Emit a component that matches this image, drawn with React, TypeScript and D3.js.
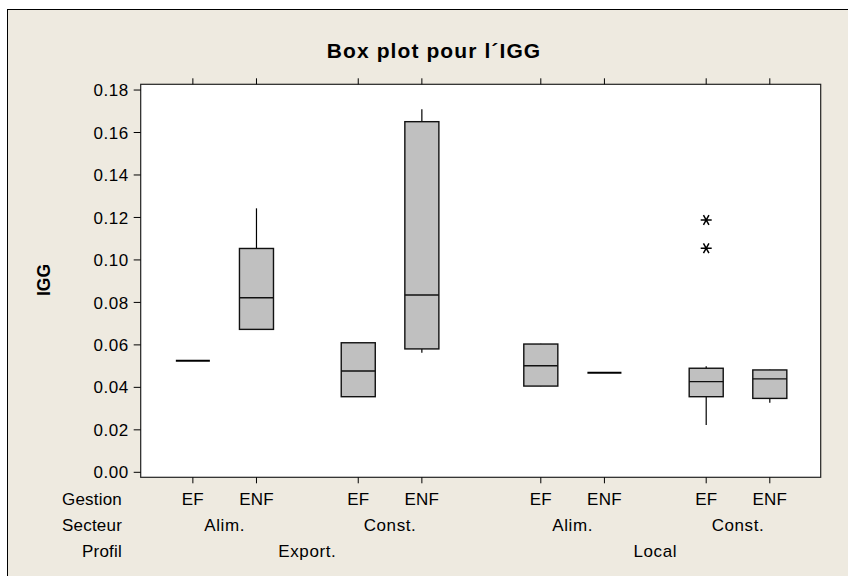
import React from "react";
import * as d3 from "d3";

// ---- Data ----
const gestion = ["EF", "ENF", "EF", "ENF", "EF", "ENF", "EF", "ENF"];
const secteur = ["Alim.", "Alim.", "Const.", "Const.", "Alim.", "Alim.", "Const.", "Const."];
const profil = ["Export.", "Export.", "Export.", "Export.", "Local", "Local", "Local", "Local"];

const whiskerLow = [0.0525, 0.0672, 0.0355, 0.0563, 0.0405, 0.0469, 0.0223, 0.0327];
const q1 = [0.0525, 0.0673, 0.0356, 0.0581, 0.0406, 0.0469, 0.0356, 0.0348];
const median = [0.0525, 0.0822, 0.0477, 0.0835, 0.0502, 0.0469, 0.0427, 0.0440];
const q3 = [0.0525, 0.1054, 0.061, 0.1651, 0.0604, 0.0469, 0.049, 0.0482];
const whiskerHigh = [0.0525, 0.1243, 0.0611, 0.171, 0.0605, 0.0469, 0.0499, 0.0483];
const outliers = [
  { group: 6, value: 0.1188 },
  { group: 6, value: 0.1055 },
];

const yTicks = [0, 0.02, 0.04, 0.06, 0.08, 0.1, 0.12, 0.14, 0.16, 0.18];
const rowLabels = ["Gestion", "Secteur", "Profil"];

const title = "Box plot pour l´IGG";
const yTitle = "IGG";

// layout gaps (in category units)
const GAP_SECTEUR = 1.6;
const GAP_PROFIL = 1.87;

const FONT = "'Liberation Sans', Arial, Helvetica, sans-serif";
const BG = "#EEEAE0";
const BOX = "#C0C0C0";

export default function App() {
  const W = 848;
  const H = 576;
  const plot = { left: 140.7, right: 820.7, top: 84.3, bottom: 477.3 };

  // category positions with gaps
  const pos: number[] = [];
  gestion.forEach((_, i) => {
    if (i === 0) pos.push(0);
    else if (profil[i] !== profil[i - 1]) pos.push(pos[i - 1] + GAP_PROFIL);
    else if (secteur[i] !== secteur[i - 1]) pos.push(pos[i - 1] + GAP_SECTEUR);
    else pos.push(pos[i - 1] + 1);
  });
  const last = pos[pos.length - 1];

  const x = d3.scaleLinear().domain([-0.82, last + 0.8]).range([plot.left, plot.right]);
  const y = d3.scaleLinear().domain([-0.00235, 0.1827]).range([plot.bottom, plot.top]);
  const halfW = (x(0.535) - x(0)) / 2;

  // group spans
  const spans = (labels: string[], parent?: string[]) => {
    const out: { label: string; from: number; to: number }[] = [];
    labels.forEach((l, i) => {
      const prev = out[out.length - 1];
      const sameParent = !parent || (i > 0 && parent[i] === parent[i - 1]);
      if (prev && prev.label === l && i > 0 && labels[i - 1] === l && sameParent) prev.to = i;
      else out.push({ label: l, from: i, to: i });
    });
    return out;
  };
  const secSpans = spans(secteur, profil);
  const profSpans = spans(profil);

  const rowY = [505, 531, 557];

  const star = (cx: number, cy: number, r: number) =>
    [0, 60, 120]
      .map((a) => {
        const rad = (a * Math.PI) / 180;
        const dx = r * Math.cos(rad);
        const dy = r * Math.sin(rad);
        return `M${cx - dx},${cy - dy}L${cx + dx},${cy + dy}`;
      })
      .join("");

  return (
    <svg
      width={W}
      height={H}
      style={{ position: "absolute", left: 0, top: 0, background: "#fff" }}
      fontFamily={FONT}
    >
      <rect x={7.5} y={9.5} width={W} height={H} fill={BG} stroke="#000" strokeWidth={1} />
      <text
        x={434}
        y={58}
        textAnchor="middle"
        fontWeight="bold"
        fontSize={21}
        letterSpacing={1.1}
        fill="#000"
      >
        {title}
      </text>

      {/* plot area */}
      <rect
        x={plot.left}
        y={plot.top}
        width={plot.right - plot.left}
        height={plot.bottom - plot.top}
        fill="#fff"
        stroke="#222"
        strokeWidth={1.2}
      />

      {/* y axis ticks */}
      {yTicks.map((t) => (
        <g key={t}>
          <line x1={plot.left - 7} x2={plot.left} y1={y(t)} y2={y(t)} stroke="#000" strokeWidth={1} />
          <text
            x={plot.left - 12}
            y={y(t)}
            dy="0.36em"
            textAnchor="end"
            fontSize={17}
            letterSpacing={0.5}
            fill="#000"
          >
            {d3.format(".2f")(t)}
          </text>
        </g>
      ))}
      <text
        transform={`translate(50,${280}) rotate(-90)`}
        textAnchor="middle"
        fontWeight="bold"
        fontSize={17.5}
        fill="#000"
      >
        {yTitle}
      </text>

      {/* x ticks top & bottom */}
      {pos.map((p, i) => (
        <g key={i}>
          <line x1={x(p)} x2={x(p)} y1={plot.bottom} y2={plot.bottom + 6} stroke="#000" strokeWidth={1} />
          <line x1={x(p)} x2={x(p)} y1={plot.top} y2={plot.top - 6} stroke="#000" strokeWidth={1} />
          <text x={x(p)} y={rowY[0]} textAnchor="middle" fontSize={17} letterSpacing={0.2} fill="#000">
            {gestion[i]}
          </text>
        </g>
      ))}
      {secSpans.map((s, i) => (
        <text
          key={"s" + i}
          x={(x(pos[s.from]) + x(pos[s.to])) / 2}
          y={rowY[1]}
          textAnchor="middle"
          fontSize={17}
          letterSpacing={0.6}
          fill="#000"
        >
          {s.label}
        </text>
      ))}
      {profSpans.map((s, i) => (
        <text
          key={"p" + i}
          x={(x(pos[s.from]) + x(pos[s.to])) / 2}
          y={rowY[2]}
          textAnchor="middle"
          fontSize={17}
          letterSpacing={0.6}
          fill="#000"
        >
          {s.label}
        </text>
      ))}
      {rowLabels.map((r, i) => (
        <text key={r} x={122} y={rowY[i]} textAnchor="end" fontSize={17} letterSpacing={0.2} fill="#000">
          {r}
        </text>
      ))}

      {/* boxes */}
      {pos.map((p, i) => {
        const cx = x(p);
        const flat = q1[i] === q3[i];
        if (flat) {
          return (
            <line
              key={"b" + i}
              x1={cx - halfW}
              x2={cx + halfW}
              y1={y(median[i])}
              y2={y(median[i])}
              stroke="#000"
              strokeWidth={2}
            />
          );
        }
        return (
          <g key={"b" + i}>
            <line x1={cx} x2={cx} y1={y(whiskerHigh[i])} y2={y(q3[i])} stroke="#000" strokeWidth={1.2} />
            <line x1={cx} x2={cx} y1={y(q1[i])} y2={y(whiskerLow[i])} stroke="#000" strokeWidth={1.2} />
            <rect
              x={cx - halfW}
              y={y(q3[i])}
              width={halfW * 2}
              height={y(q1[i]) - y(q3[i])}
              fill={BOX}
              stroke="#111"
              strokeWidth={1.4}
            />
            <line
              x1={cx - halfW}
              x2={cx + halfW}
              y1={y(median[i])}
              y2={y(median[i])}
              stroke="#111"
              strokeWidth={1.4}
            />
          </g>
        );
      })}

      {/* outliers */}
      {outliers.map((o, i) => (
        <path key={"o" + i} d={star(x(pos[o.group]), y(o.value), 5.5)} stroke="#000" strokeWidth={1.5} fill="none" />
      ))}
    </svg>
  );
}
